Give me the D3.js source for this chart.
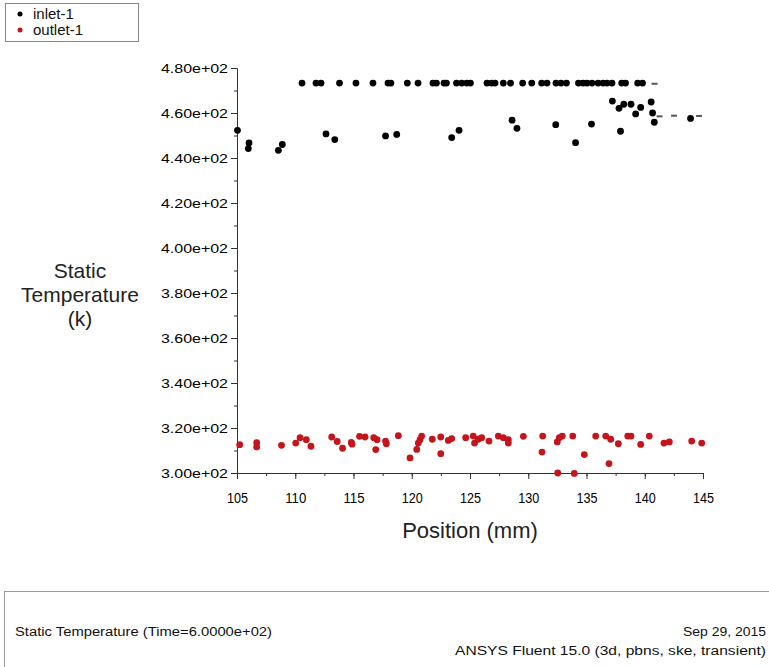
<!DOCTYPE html>
<html>
<head>
<meta charset="utf-8">
<script src="https://cdn.jsdelivr.net/npm/d3@7"></script>
<style>
  body { margin: 0; background: #fff; }
  svg { display: block; font-family: "Liberation Sans", Arial, sans-serif; }
</style>
</head>
<body>
<svg id="drawing_region"></svg>
<script>
// series: inlet-1 (black), outlet-1 (red); x = position in mm, y = static temperature in K
const inletX = [110.58, 111.78, 112.21, 113.80, 115.21, 116.67, 117.96, 118.21, 119.62, 120.54,
                121.82, 122.12, 122.77, 122.98, 123.84, 124.29, 124.72, 125.04, 126.46, 126.85,
                127.15, 127.86, 128.48, 129.52, 130.30, 131.15, 131.61, 132.38, 132.81, 133.28,
                134.31, 134.70, 135.04, 135.47, 135.99, 136.42, 136.76, 137.19, 138.02, 138.35,
                139.39, 139.81,
                105.04, 106.03, 105.97, 108.55, 108.89, 112.64, 113.39, 117.75, 118.71, 123.43,
                124.06, 128.61, 129.03, 132.36, 134.06, 135.43, 137.22, 137.79, 138.20, 138.82,
                139.22, 139.65, 137.92, 140.55, 140.67, 140.82, 143.93];
const inletT = [473.3, 473.3, 473.3, 473.3, 473.3, 473.3, 473.3, 473.3, 473.3, 473.3,
                473.3, 473.3, 473.3, 473.3, 473.3, 473.3, 473.3, 473.3, 473.3, 473.3,
                473.3, 473.3, 473.3, 473.3, 473.3, 473.3, 473.3, 473.3, 473.3, 473.3,
                473.3, 473.3, 473.3, 473.3, 473.3, 473.3, 473.3, 473.3, 473.3, 473.3,
                473.3, 473.3,
                452.3, 446.7, 444.2, 443.4, 446.0, 450.7, 448.2, 449.8, 450.5, 449.1,
                452.3, 456.8, 453.2, 454.8, 446.8, 455.1, 465.3, 462.1, 463.9, 463.9,
                459.6, 462.5, 451.9, 464.9, 460.0, 455.9, 457.6];
// barely visible inlet marks near the right end
const inletFaintX = [140.84, 141.27, 142.51, 144.66];
const inletFaintT = [473.0, 458.5, 458.8, 458.7];

const outletX = [105.23, 106.69, 106.69, 108.82, 110.04, 110.41, 110.95, 111.35, 113.13, 113.60,
                 114.06, 114.81, 114.87, 115.52, 115.99, 116.74, 117.02, 116.91, 117.75, 117.82,
                 118.85, 119.85, 120.43, 120.56, 120.71, 120.85, 121.76, 122.49, 122.49, 123.14,
                 123.43, 124.63, 125.28, 125.39, 125.71, 126.00, 126.63, 127.43, 127.86, 128.29,
                 128.29, 129.58, 131.24, 131.18, 132.49, 132.67, 132.92, 132.53, 133.82, 133.95,
                 134.81, 135.79, 136.65, 137.08, 136.93, 137.73, 138.54, 138.82, 139.65, 140.39,
                 141.65, 142.11, 144.03, 144.89];
const outletT = [312.6, 313.5, 311.6, 312.3, 313.3, 315.7, 314.8, 311.9, 316.0, 314.0,
                 311.0, 313.6, 312.8, 316.3, 316.0, 315.7, 314.8, 310.4, 314.2, 313.0,
                 316.6, 306.7, 310.5, 313.3, 314.8, 316.4, 315.0, 316.0, 308.6, 314.5,
                 315.3, 315.7, 316.4, 313.3, 315.0, 315.7, 314.2, 316.4, 315.7, 314.8,
                 313.3, 316.3, 316.4, 309.3, 313.8, 315.7, 316.4, 300.0, 316.4, 299.8,
                 308.2, 316.4, 316.4, 315.0, 304.2, 313.0, 316.4, 316.4, 312.7, 316.4,
                 313.3, 313.8, 314.2, 313.3];

const xTicks = [105, 110, 115, 120, 125, 130, 135, 140, 145];
const yTicks = [300, 320, 340, 360, 380, 400, 420, 440, 460, 480];
const yTickLabels = ["3.00e+02", "3.20e+02", "3.40e+02", "3.60e+02", "3.80e+02",
                     "4.00e+02", "4.20e+02", "4.40e+02", "4.60e+02", "4.80e+02"];

var config = {
    parent: '#drawing_region',
    width: 769,
    height: 667,
    margin: {top: 68, left: 237},
    inner: {width: 466, height: 405}
};

const svg = d3.select(config.parent)
    .attr('width', config.width)
    .attr('height', config.height);

const chart = svg.append('g')
    .attr('transform', `translate(${config.margin.left}, ${config.margin.top})`);

const xscale = d3.scaleLinear().domain([105, 145]).range([0, config.inner.width]);
const yscale = d3.scaleLinear().domain([300, 480]).range([config.inner.height, 0]);

// minor ticks
const xminor = d3.axisBottom(xscale).tickValues(d3.range(105, 145.1, 2.5))
    .tickSize(3).tickSizeOuter(0).tickFormat('');
const yminor = d3.axisLeft(yscale).tickValues(d3.range(300, 480.1, 10))
    .tickSize(3).tickSizeOuter(0).tickFormat('');

chart.append('g').attr('transform', `translate(0, ${config.inner.height})`).call(xminor);
chart.append('g').call(yminor);

// major ticks + labels
const xaxis = d3.axisBottom(xscale).tickValues(xTicks).tickSize(6).tickSizeOuter(0).tickPadding(14);
const yaxis = d3.axisLeft(yscale).tickValues(yTicks).tickSize(6).tickSizeOuter(0).tickPadding(3)
    .tickFormat((d, i) => yTickLabels[i]);

const xg = chart.append('g').attr('transform', `translate(0, ${config.inner.height})`).call(xaxis);
const yg = chart.append('g').call(yaxis);

chart.selectAll('.domain, .tick line').attr('stroke', '#333');
xg.selectAll('text').attr('font-size', 14).attr('fill', '#000')
    .attr('font-family', '"Liberation Sans", Arial, sans-serif')
    .attr('textLength', 21).attr('lengthAdjust', 'spacingAndGlyphs');
yg.selectAll('text').attr('font-size', 13.5).attr('fill', '#000')
    .attr('font-family', '"Liberation Sans", Arial, sans-serif')
    .attr('textLength', 67).attr('lengthAdjust', 'spacingAndGlyphs');

// points
const inlet = inletX.map((x, i) => ({x: x, t: inletT[i]}));
const inletFaint = inletFaintX.map((x, i) => ({x: x, t: inletFaintT[i]}));
const outlet = outletX.map((x, i) => ({x: x, t: outletT[i]}));

chart.append('g').selectAll('circle').data(outlet).enter()
    .append('circle')
    .attr('cx', d => xscale(d.x))
    .attr('cy', d => yscale(d.t))
    .attr('r', 3.4)
    .attr('fill', '#c4141c');

chart.append('g').selectAll('circle').data(inlet).enter()
    .append('circle')
    .attr('cx', d => xscale(d.x))
    .attr('cy', d => yscale(d.t))
    .attr('r', 3.4)
    .attr('fill', '#000');

chart.append('g').selectAll('rect').data(inletFaint).enter()
    .append('rect')
    .attr('x', d => xscale(d.x) - 3)
    .attr('y', d => yscale(d.t) - 1)
    .attr('width', 6)
    .attr('height', 2)
    .attr('fill', '#555');

// axis titles
svg.append('text')
    .attr('x', 470).attr('y', 538)
    .attr('text-anchor', 'middle')
    .attr('font-size', 22).attr('fill', '#222')
    .text('Position (mm)');

const ylab = svg.append('text')
    .attr('text-anchor', 'middle')
    .attr('font-size', 21).attr('fill', '#222');
['Static', 'Temperature', '(k)'].forEach((s, i) => {
    ylab.append('tspan').attr('x', 80).attr('y', 278 + i * 24).text(s);
});

// legend
const legend = svg.append('g');
legend.append('rect')
    .attr('x', 5.5).attr('y', 3.5).attr('width', 133).attr('height', 38)
    .attr('fill', '#fff').attr('stroke', '#888');
[['inlet-1', '#000'], ['outlet-1', '#c4141c']].forEach((d, i) => {
    legend.append('circle').attr('cx', 20).attr('cy', 14 + i * 16).attr('r', 2.5).attr('fill', d[1]);
    legend.append('text').attr('x', 33).attr('y', 19 + i * 16)
        .attr('font-size', 15).attr('fill', '#111').text(d[0]);
});

// footer box
svg.append('rect')
    .attr('x', 4.5).attr('y', 591.5).attr('width', 800).attr('height', 100)
    .attr('fill', 'none').attr('stroke', '#999');
svg.append('text')
    .attr('x', 15).attr('y', 636)
    .attr('font-size', 12).attr('fill', '#111')
    .attr('textLength', 257).attr('lengthAdjust', 'spacingAndGlyphs')
    .text('Static Temperature  (Time=6.0000e+02)');
svg.append('text')
    .attr('x', 766).attr('y', 636)
    .attr('text-anchor', 'end')
    .attr('font-size', 12).attr('fill', '#111')
    .attr('textLength', 83).attr('lengthAdjust', 'spacingAndGlyphs')
    .text('Sep 29, 2015');
svg.append('text')
    .attr('x', 766).attr('y', 655)
    .attr('text-anchor', 'end')
    .attr('font-size', 12).attr('fill', '#111')
    .attr('textLength', 311).attr('lengthAdjust', 'spacingAndGlyphs')
    .text('ANSYS Fluent 15.0 (3d, pbns, ske, transient)');
</script>
</body>
</html>
